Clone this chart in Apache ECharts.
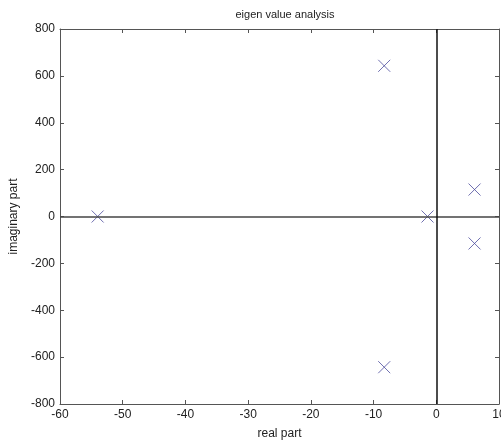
<!DOCTYPE html>
<html>
<head>
<meta charset="utf-8">
<script src="https://cdn.jsdelivr.net/npm/echarts@6/dist/echarts.min.js"></script>
<style>
  html,body{margin:0;padding:0;background:#fff;}
  #eig{width:501px;height:446px;}
</style>
</head>
<body>
<div id="eig"></div>
<script>
// eigenvalues: real part / imaginary part
var realPart = [-54, -8.3, -8.3, -1.4, 6.1, 6.1];
var imagPart = [0, 643, -643, 0, 115, -115];
var xTicks = [-60, -50, -40, -30, -20, -10, 0, 10];
var yTicks = [-800, -600, -400, -200, 0, 200, 400, 600, 800];

var pts = realPart.map(function(r, i){ return [r, imagPart[i]] });

var chart = echarts.init(document.getElementById('eig'))
var txt = {color:'#222', fontFamily:'Liberation Sans, Arial', fontSize:12}
var box = {
  axisLine:{onZero:false, lineStyle:{color:'#555', width:1}},
  axisTick:{inside:true, length:4, lineStyle:{color:'#555'}},
  splitLine:{show:false}
}
var option = {
  animation:false,
  title:{
    text:'eigen value analysis',
    left:280, top:4, textAlign:'center',
    textStyle:{fontWeight:'normal', fontSize:11, color:'#222', fontFamily:'Liberation Sans, Arial'}
  },
  grid:{left:60, right:2, top:29, bottom:42, outerBoundsMode:'none', containLabel:false},
  xAxis:[
    Object.assign({
      type:'value', min:xTicks[0], max:xTicks[xTicks.length-1], interval:10,
      name:'real part', nameLocation:'middle', nameGap:24, nameTextStyle:txt,
      axisLabel:Object.assign({margin:5}, txt)
    }, box),
    Object.assign({
      type:'value', position:'top', min:-60, max:10, interval:10,
      axisLabel:{show:false}
    }, box)
  ],
  yAxis:[
    Object.assign({
      type:'value', min:yTicks[0], max:yTicks[yTicks.length-1], interval:200,
      name:'imaginary part', nameLocation:'middle', nameGap:36, nameTextStyle:txt,
      axisLabel:Object.assign({margin:5}, txt)
    }, box),
    Object.assign({
      type:'value', position:'right', min:-800, max:800, interval:200,
      axisLabel:{show:false}
    }, box)
  ],
  series:[{
    type:'scatter',
    data:pts,
    symbol:'path://M0,0L10,10M10,0L0,10',
    symbolSize:12,
    itemStyle:{color:'none', borderColor:'#4b4b9c', borderWidth:1},
    markLine:{
      silent:true,
      symbol:['none','none'],
      label:{show:false},
      data:[
        {yAxis:0, lineStyle:{color:'#444', width:1.5, type:'solid'}},
        {xAxis:0, lineStyle:{color:'#111', width:1.5, type:'solid'}}
      ]
    },
    z:3
  }]
}
chart.setOption(option)
</script>
</body>
</html>
